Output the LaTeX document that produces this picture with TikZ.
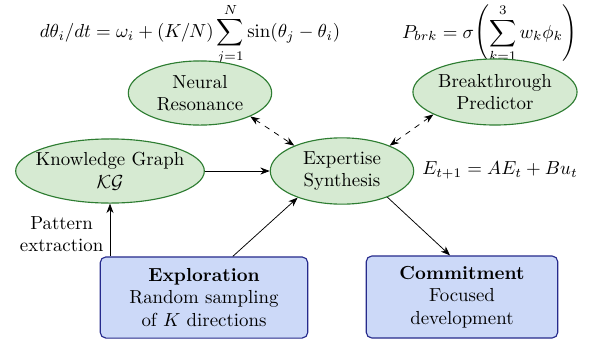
\documentclass[tikz,border=0pt]{standalone}
\usepackage{amsmath,amssymb}
\usetikzlibrary{arrows.meta,shapes.geometric}

\definecolor{palegreen}{RGB}{214,234,210}
\definecolor{leafgreen}{RGB}{46,125,50}
\definecolor{paleblue}{RGB}{204,217,248}
\definecolor{deepblue}{RGB}{38,42,140}

\begin{document}
\begin{tikzpicture}[x=0.53pt,y=-0.53pt,
    idea/.style={ellipse, draw=leafgreen, fill=palegreen, semithick, align=center, inner xsep=-4pt, inner ysep=2pt},
    stage/.style={rectangle, rounded corners=3pt, draw=deepblue, fill=paleblue, semithick, align=center},
    formula/.style={inner sep=0pt},
    flow/.style={-{Stealth[length=5pt]}},
    link/.style={{Stealth[length=5pt]}-{Stealth[length=5pt]}, dashed}]
\useasboundingbox (0,0) rectangle (592,344);

% equations on top
\node[formula] (kuramoto) at (190,34) {$\displaystyle d\theta_i/dt = \omega_i + (K/N)\sum_{j=1}^{N}\sin(\theta_j - \theta_i)$};
\node[formula, anchor=base] (brk) at (490,38) {$\displaystyle P_{brk} = \sigma\Biggl(\sum_{k=1}^{3} w_k\phi_k\Biggr)$};

% ellipses
\node[idea, minimum width=76pt, minimum height=34pt] (nr) at (200,93) {Neural\\Resonance};
\node[idea, minimum width=87pt, minimum height=35pt] (bp) at (495,92) {Breakthrough\\Predictor};
\node[idea, minimum width=100pt, minimum height=34pt] (kg) at (110,171) {Knowledge Graph\\$\mathcal{KG}$};
\node[idea, minimum width=76pt, minimum height=33.5pt] (synth) at (342,171) {Expertise\\Synthesis};
\node (state) at (500,170) {$E_{t+1} = AE_t + Bu_t$};

% boxes
\node[stage, minimum width=110pt, minimum height=43pt] (expl) at (204,297.5) {\textbf{Exploration}\\Random sampling\\of $K$ directions};
\node[stage, minimum width=101.5pt, minimum height=43.5pt] (commit) at (462,297) {\textbf{Commitment}\\Focused\\development};

% connectors
\draw[flow] (kg) -- (synth);
\draw[flow] (expl.north -| kg) -- node[left, align=center, pos=0.42] {Pattern\\extraction} (kg);
\draw[flow] (expl.55) -- (synth.211);
\draw[flow] (synth.330) -- (commit.106);
\draw[link] (nr.335) -- (synth.152);
\draw[link] (bp.200) -- (synth.28);
\end{tikzpicture}
\end{document}
